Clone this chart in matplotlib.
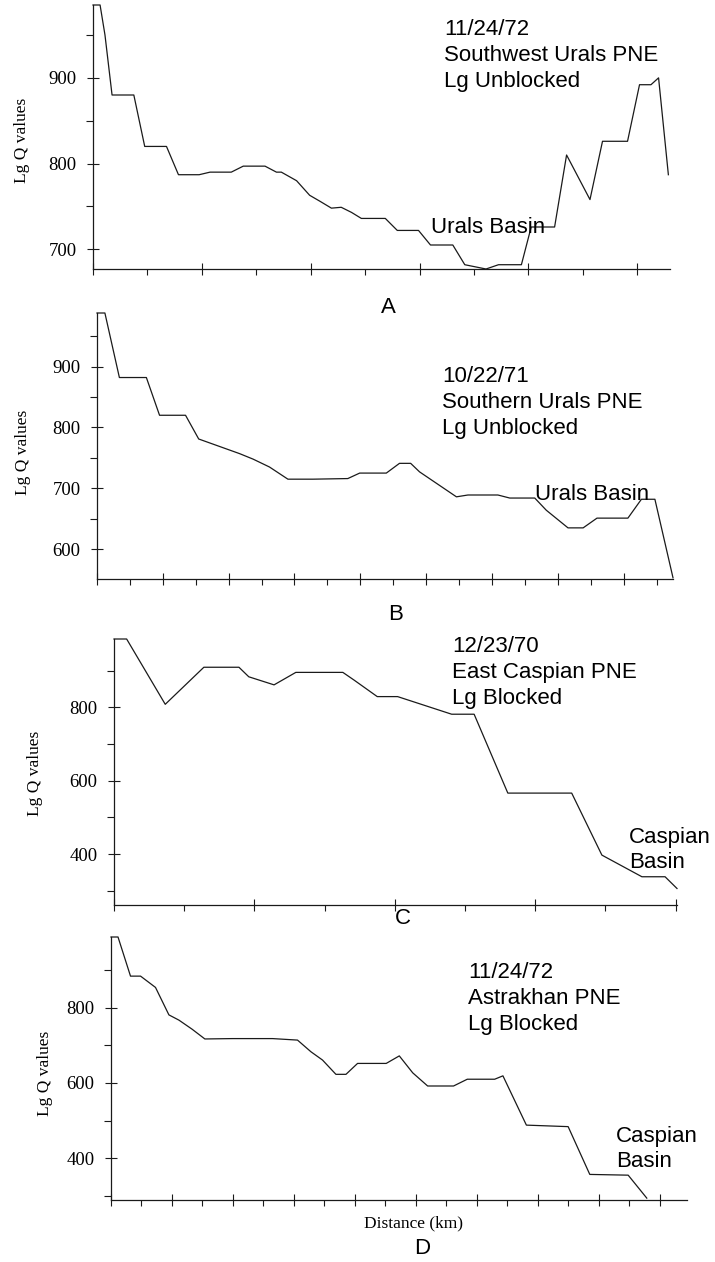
"""
Lg Q profiles along four PNE paths (panels A-D), redrawn from a scanned figure.
x is distance in tick units (minor tick = 1), y is Lg Q.
"""
import numpy as np
import matplotlib.pyplot as plt
from matplotlib.ticker import FixedLocator, NullFormatter

W, H = 715, 1262

SERIF = ["Liberation Serif", "DejaVu Serif"]
SANS = ["Liberation Sans", "DejaVu Sans"]

# ── Data ─────────────────────────────────────────────────────────────────────
A_X = [0, 0.13, 0.22, 0.35, 0.75, 0.95, 1.35, 1.57, 1.95, 2.15, 2.54, 2.76,
       3.16, 3.37, 3.46, 3.74, 3.98, 4.17, 4.38, 4.56, 4.75, 4.93, 5.37,
       5.59, 5.98, 6.20, 6.61, 6.83, 7.22, 7.45, 7.87, 8.05, 8.48, 8.70,
       9.13, 9.36, 9.82, 10.04, 10.25, 10.39, 10.57]
A_Q = [985, 985, 950, 880, 880, 820, 820, 787, 787, 790, 790, 797,
       797, 790, 790, 780, 763, 756, 748, 749, 743, 736, 736,
       722, 722, 705, 705, 682, 677, 682, 682, 726, 726, 810,
       758, 826, 826, 892, 892, 900, 787]

B_X = [0, 0.24, 0.68, 1.50, 1.90, 2.69, 3.09, 4.33, 4.74, 5.24, 5.80, 6.56,
       7.62, 7.98, 8.79, 9.19, 9.53, 9.80, 10.92, 11.27, 12.18, 12.54, 13.30,
       13.65, 14.31, 14.77, 15.19, 16.13, 16.54, 16.95, 17.50]
B_Q = [988, 988, 882, 882, 820, 820, 781, 757, 748, 735, 715, 715,
       716, 725, 725, 741, 741, 727, 686, 689, 689, 684, 684,
       664, 635, 635, 651, 651, 682, 682, 553]

C_X = [0, 0.18, 0.73, 1.28, 1.78, 1.92, 2.28, 2.59, 3.26, 3.42, 3.75, 4.04,
       4.81, 5.13, 5.61, 6.52, 6.95, 7.52, 7.85, 8.02]
C_Q = [986, 986, 808, 909, 909, 883, 861, 895, 895, 874, 829, 829,
       781, 781, 566, 566, 397, 338, 338, 306]

D_X = [0, 0.23, 0.64, 0.97, 1.46, 1.90, 2.23, 2.66, 3.08, 3.98, 5.30, 6.12,
       6.56, 6.94, 7.38, 7.71, 8.09, 9.03, 9.46, 9.90, 10.39, 11.24, 11.69,
       12.59, 12.86, 13.63, 15.00, 15.71, 16.97, 17.58]
D_Q = [988, 988, 884, 884, 854, 781, 767, 743, 717, 718, 718, 714,
       683, 661, 623, 623, 652, 652, 672, 627, 592, 592, 610,
       610, 619, 488, 484, 357, 355, 294]

A_YMAJOR = [700, 800, 900]
B_YMAJOR = [600, 700, 800, 900]
C_YMAJOR = [400, 600, 800]
D_YMAJOR = [400, 600, 800]
A_YMINOR = [750, 850, 950]
B_YMINOR = [650, 750, 850, 950]
C_YMINOR = [300, 500, 700, 900]
D_YMINOR = [300, 500, 700, 900]

ANNOT = ["11/24/72\nSouthwest Urals PNE\nLg Unblocked",
         "10/22/71\nSouthern Urals PNE\nLg Unblocked",
         "12/23/70\nEast Caspian PNE\nLg Blocked",
         "11/24/72\nAstrakhan PNE\nLg Blocked"]
BASIN = ["Urals Basin", "Urals Basin", "Caspian\nBasin", "Caspian\nBasin"]
LETTERS = ["A", "B", "C", "D"]


def px(x, y):
    """pixel position in the 715x1262 image -> figure fraction"""
    return x / W, 1 - y / H


def box(left, top, right, bottom):
    return [left / W, 1 - bottom / H, (right - left) / W, (bottom - top) / H]


panels = [
    # axes box (px), xlim, ylim, yticks, ylabel / annotation / basin / letter pos (px)
    dict(x=A_X, q=A_Q, box=(93, 5, 670, 269), xmax=10.6, ylim=(677, 985),
         maj=A_YMAJOR, mnr=A_YMINOR, yl=(22, 140), an=(444, 19), bs=(431, 217),
         lt=(388, 308)),
    dict(x=B_X, q=B_Q, box=(97, 313, 673, 579), xmax=17.5, ylim=(551, 988),
         maj=B_YMAJOR, mnr=B_YMINOR, yl=(23, 452), an=(442, 366), bs=(535, 484),
         lt=(396, 615)),
    dict(x=C_X, q=C_Q, box=(114, 639, 677, 905), xmax=8.02, ylim=(261, 986),
         maj=C_YMAJOR, mnr=C_YMINOR, yl=(35, 773), an=(452, 636), bs=(629, 827),
         lt=(403, 918)),
    dict(x=D_X, q=D_Q, box=(111, 937, 687, 1200), xmax=18.9, ylim=(289, 988),
         maj=D_YMAJOR, mnr=D_YMINOR, yl=(45, 1073), an=(468, 962), bs=(616, 1126),
         lt=(422, 1249)),
]

fig = plt.figure(figsize=(W / 100, H / 100), dpi=100)

for i, p in enumerate(panels):
    ax = fig.add_axes(box(*p["box"]))
    ax.plot(p["x"], p["q"], color="#1a1a1a", lw=0.9, clip_on=False)
    ax.set_xlim(0, p["xmax"])
    ax.set_ylim(*p["ylim"])

    for s in ("top", "right"):
        ax.spines[s].set_visible(False)
    for s in ("left", "bottom"):
        ax.spines[s].set_linewidth(0.9)
        ax.spines[s].set_color("#1a1a1a")

    n = int(np.floor(p["xmax"] + 1e-6))
    ax.xaxis.set_major_locator(FixedLocator(list(range(0, n + 1, 2))))
    ax.xaxis.set_minor_locator(FixedLocator(list(range(1, n + 1, 2))))
    ax.xaxis.set_major_formatter(NullFormatter())
    ax.yaxis.set_major_locator(FixedLocator(p["maj"]))
    ax.yaxis.set_minor_locator(FixedLocator(p["mnr"]))
    ax.yaxis.set_minor_formatter(NullFormatter())

    ax.tick_params(axis="x", which="major", direction="inout", length=9,
                   width=0.8, color="#1a1a1a")
    ax.tick_params(axis="x", which="minor", direction="out", length=4,
                   width=0.8, color="#1a1a1a")
    ax.tick_params(axis="y", which="major", direction="inout", length=8.5,
                   width=0.8, color="#1a1a1a", pad=7.5, labelsize=13.5)
    ax.tick_params(axis="y", which="minor", direction="out", length=5,
                   width=0.8, color="#1a1a1a")
    for lab in ax.get_yticklabels():
        lab.set_family(SERIF)

    fig.text(*px(*p["yl"]), "Lg Q values", rotation=90, ha="center",
             va="center", fontsize=12.5, family=SERIF)
    fig.text(*px(*p["an"]), ANNOT[i], ha="left", va="top", fontsize=16,
             linespacing=1.32, family=SANS)
    fig.text(*px(*p["bs"]), BASIN[i], ha="left", va="top", fontsize=16,
             linespacing=1.25, family=SANS)
    fig.text(*px(*p["lt"]), LETTERS[i], ha="center", va="center",
             fontsize=16, family=SANS)

fig.text(*px(413, 1223), "Distance (km)", ha="center", va="center",
         fontsize=12.5, family=SERIF)

fig.savefig("out.png", dpi=100)
